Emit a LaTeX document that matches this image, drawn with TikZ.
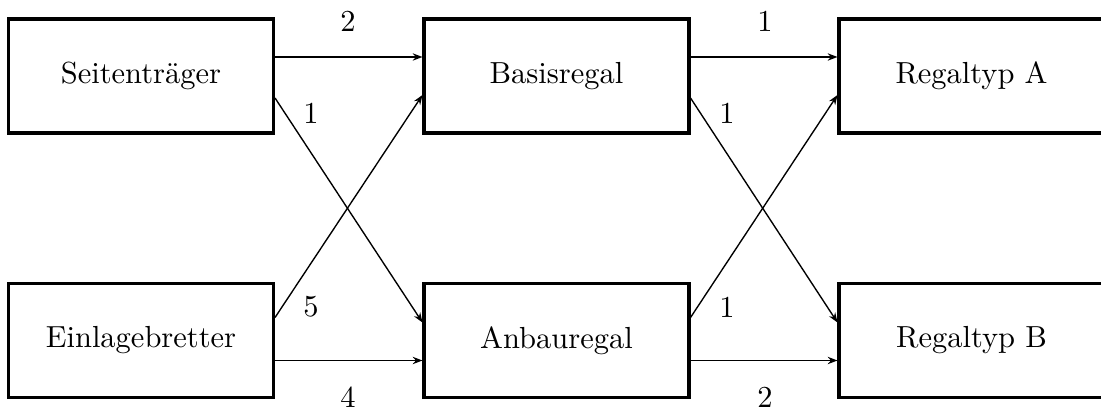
\documentclass[tikz,border=0pt]{standalone}
\usetikzlibrary{arrows.meta}
\begin{document}
\begin{tikzpicture}[x=0.328pt,y=-0.328pt,
  box/.style={draw,line width=1pt,minimum width=265*0.328pt,minimum height=114*0.328pt,inner sep=0pt,font=\normalsize},
  conn/.style={line width=0.45pt,-{Stealth[length=3.2pt,width=2.4pt]}},
  hconn/.style={conn,line width=0.65pt},
  lbl/.style={inner sep=0pt,font=\normalsize}]
\useasboundingbox (0,0) rectangle (1101,409);
\node[box] (st) at (141,76) {Seitenträger};
\node[box] (eb) at (141,340.5) {Einlagebretter};
\node[box] (br) at (556.5,76) {Basisregal};
\node[box] (ar) at (556.5,340.5) {Anbauregal};
\node[box] (ra) at (971.5,76) {Regaltyp A};
\node[box] (rb) at (971.5,340.5) {Regaltyp B};
% horizontal connectors at 1/3 height
\draw[hconn] ([yshift=19*0.328pt]st.east) -- ([yshift=19*0.328pt]br.west);
\draw[hconn] ([yshift=-20*0.328pt]eb.east) -- ([yshift=-20*0.328pt]ar.west);
\draw[hconn] ([yshift=19*0.328pt]br.east) -- ([yshift=19*0.328pt]ra.west);
\draw[hconn] ([yshift=-20*0.328pt]ar.east) -- ([yshift=-20*0.328pt]rb.west);
% diagonals
\draw[conn] ([yshift=-22*0.328pt]st.east) -- ([yshift=18*0.328pt]ar.west);
\draw[conn] ([yshift=23*0.328pt]eb.east) -- ([yshift=-19*0.328pt]br.west);
\draw[conn] ([yshift=-22*0.328pt]br.east) -- ([yshift=18*0.328pt]rb.west);
\draw[conn] ([yshift=23*0.328pt]ar.east) -- ([yshift=-19*0.328pt]ra.west);
% labels
\node[lbl] (l1) at (348,21) {2};
\node[lbl] (l2) at (311,113) {1};
\node[lbl] (l3) at (311,307) {5};
\node[lbl] (l4) at (348,397) {4};
\node[lbl] (l5) at (765,21) {1};
\node[lbl] (l6) at (727,113) {1};
\node[lbl] (l7) at (727,307) {1};
\node[lbl] (l8) at (765,397) {2};
\end{tikzpicture}
\end{document}
